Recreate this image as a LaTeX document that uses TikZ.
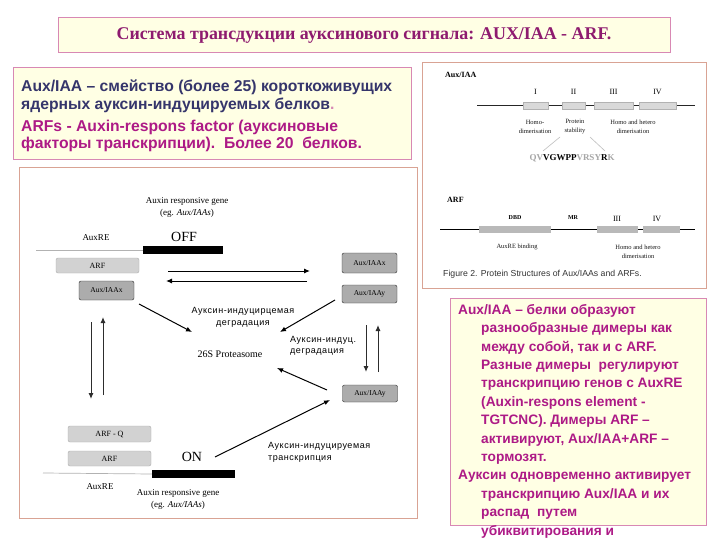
\documentclass[tikz,border=0pt]{standalone}
\usepackage{fontspec}
\setmainfont{Liberation Serif}
\setsansfont{Liberation Sans}
\newfontfamily\lblfont[LetterSpace=6]{Liberation Sans}
\usetikzlibrary{arrows.meta, positioning}

\definecolor{creamfill}{HTML}{FFFFE4}
\definecolor{pinkline}{HTML}{D888B4}
\definecolor{figline}{HTML}{D9A394}
\definecolor{titletext}{HTML}{8E1B6F}
\definecolor{magtext}{HTML}{AD1A86}
\definecolor{navytext}{HTML}{35356B}

\begin{document}
\begin{tikzpicture}[
    x=1pt, y=-1pt,
    every node/.style={inner sep=0pt},
    notebox/.style={rectangle, draw=pinkline, fill=creamfill, line width=1pt},
    figbox/.style={rectangle, draw=figline, fill=white, line width=1pt},
    lightprot/.style={rectangle, rounded corners=2pt, draw=gray!65, fill=gray!35, minimum width=83pt, font=\fontsize{8}{9}\selectfont},
    darkprot/.style={rectangle, rounded corners=2pt, draw=gray!35!black, fill=gray!65, minimum width=55pt, font=\fontsize{7.5}{9}\selectfont},
    genebar/.style={rectangle, fill=black, minimum height=8pt},
    dna/.style={draw=gray!60, line width=0.7pt},
    gene/.style={font=\fontsize{9}{12}\selectfont, align=center},
    rulabel/.style={font=\lblfont\fontsize{9}{11.5}\selectfont},
    domainbox/.style={rectangle, draw=gray!60, fill=gray!30, minimum height=7pt},
    arfdomain/.style={rectangle, draw=gray!55, fill=gray!55, minimum height=6.5pt},
    smalllbl/.style={font=\fontsize{6.5}{9}\selectfont, align=center, text=gray!20!black},
    arrow/.style={-{Latex[length=6pt,width=5pt]}, line width=1pt},
    grayarrow/.style={arrow, draw=gray!35!black}
]
\useasboundingbox (0,0) rectangle (720,540);

% title
\node[notebox, minimum width=612pt, minimum height=35pt, text=titletext,
      font=\fontsize{17.9}{20}\selectfont\bfseries] (title) at (364,35.5)
      {Система трансдукции ауксинового сигнала: AUX/IAA - ARF.};

% upper left note
\node[notebox, minimum width=398pt, minimum height=92pt] (auxnote) at (212,114) {};
\node[anchor=west, align=left, font=\sffamily\bfseries\fontsize{15.7}{17.5}\selectfont] (auxtext) at (21,116)
      {\color{navytext}Aux/IAA – смейство (более 25) короткоживущих\\
       \color{navytext}ядерных ауксин-индуцируемых белков\textcolor{pinkline}{.}\\[4.5pt]
       \color{magtext}ARFs - Auxin-respons factor (ауксиновые\\
       \color{magtext}факторы транскрипции).\ \ Более 20\ \ белков.};

% frames
\node[figbox, minimum width=284pt, minimum height=225pt] (protfig) at (564,175.5) {};
\node[figbox, minimum width=398pt, minimum height=350pt] (schemefig) at (218,343) {};
\node[notebox, minimum width=256pt, minimum height=227pt] (dimernote) at (578,411.5) {};

% lower right note
\node[anchor=north west, align=left, text=magtext,
      font=\sffamily\bfseries\fontsize{13.7}{18.4}\selectfont] (dimertext) at (458,304)
      {Aux/IAA – белки образуют\\
       \hspace*{23pt}разнообразные димеры как\\
       \hspace*{23pt}между собой, так и с ARF.\\
       \hspace*{23pt}Разные димеры\ \ регулируют\\
       \hspace*{23pt}транскрипцию генов с AuxRE\\
       \hspace*{23pt}(Auxin-respons element -\\
       \hspace*{23pt}TGTCNC). Димеры ARF –\\
       \hspace*{23pt}активируют, Aux/IAA+ARF –\\
       \hspace*{23pt}тормозят.\\
       Ауксин одновременно активирует\\
       \hspace*{23pt}транскрипцию Aux/IAA и их\\
       \hspace*{23pt}распад\ \ путем\\
       \hspace*{23pt}убиквитирования и\\
       \hspace*{23pt}протеасомами 26S};

% Aux/IAA protein structure
\node[anchor=west, font=\fontsize{8}{9}\selectfont\bfseries] (auxhead) at (445,75) {Aux/IAA};
\coordinate (auxN) at (477,105);
\coordinate (auxC) at (695,105);
\draw[gray!30!black, line width=0.6pt] (auxN) -- (auxC);
\node[domainbox, minimum width=25pt] (dI) at (535.5,105.5) {};
\node[domainbox, minimum width=23pt] (dII) at (573.5,105.5) {};
\node[domainbox, minimum width=39pt] (dIII) at (613.5,105.5) {};
\node[domainbox, minimum width=37pt] (dIV) at (657.5,105.5) {};
\foreach \dom/\num in {dI/I, dII/II, dIII/III, dIV/IV}
    \node[font=\fontsize{8}{9}\selectfont, above=7pt of \dom] {\num};
\node[smalllbl] (homo) at (535,126.5) {Homo-\\dimerisation};
\node[smalllbl] (stab) at (575,126.5) {Protein\\stability};
\node[smalllbl] (hetero) at (633,126.5) {Homo and hetero\\dimerisation};
\coordinate (stabL) at (543,151);
\coordinate (stabR) at (605,151);
\draw[gray!50, line width=0.6pt] (560,137) -- (stabL);
\draw[gray!50, line width=0.6pt] (590,137) -- (stabR);
\node[font=\fontsize{9}{10}\selectfont\bfseries] (motif) at (572,158)
    {\textcolor{gray!70}{QV}VGWPP\textcolor{gray!70}{VRSY}R\textcolor{gray!70}{K}};

% ARF protein structure
\node[anchor=west, font=\fontsize{8}{9}\selectfont\bfseries] (arfhead) at (447,200) {ARF};
\coordinate (arfN) at (440,229);
\coordinate (arfC) at (695,229);
\draw[black, line width=0.8pt] (arfN) -- (arfC);
\node[arfdomain, minimum width=71pt] (dbd) at (514.5,229) {};
\node[arfdomain, minimum width=40pt] (aIII) at (617,229) {};
\node[arfdomain, minimum width=36pt] (aIV) at (661,229) {};
\node[font=\fontsize{6}{7}\selectfont\bfseries] at (515,218) {DBD};
\node[font=\fontsize{6}{7}\selectfont\bfseries] at (573,218) {MR};
\node[font=\fontsize{8}{9}\selectfont] at (617,219) {III};
\node[font=\fontsize{8}{9}\selectfont] at (657,219) {IV};
\node[smalllbl] (auxrebind) at (517,247) {AuxRE binding};
\node[smalllbl] (arfdimer) at (638,252) {Homo and hetero\\dimerisation};
\node[anchor=west, font=\sffamily\fontsize{8.7}{9}\selectfont, text=gray!40!black] (caption) at (443,274)
    {Figure 2. Protein Structures of Aux/IAAs and ARFs.};

% OFF state
\node[gene] (geneoff) at (187,207) {Auxin responsive gene\\(eg. \textit{Aux/IAAs})};
\node[font=\fontsize{9}{10}\selectfont] (auxreoff) at (96,238) {AuxRE};
\node[font=\fontsize{14}{15}\selectfont] (off) at (184,237) {OFF};
\node[genebar, minimum width=80pt] (baroff) at (183,250) {};
\coordinate (dnaoff) at (36,250);
\draw[dna] (dnaoff) -- (baroff.west);
\node[lightprot, minimum height=15pt] (arfoff) at (97.5,265.5) {ARF};
\node[darkprot, minimum height=19pt] (auxL) at (106.5,290.5) {Aux/IAAx};

% free Aux/IAA pool
\node[darkprot, minimum height=20pt] (auxR1) at (369.5,263) {Aux/IAAx};
\node[darkprot, minimum height=18pt] (auxR2) at (369.5,294) {Aux/IAAy};
\node[darkprot, minimum height=17pt] (auxR3) at (370,393.5) {Aux/IAAy};
\node[font=\fontsize{10}{11}\selectfont] (prot) at (230,354) {26S Proteasome};
\node[rulabel, align=center] (degr1) at (243,317.5) {Ауксин-индуцирцемая\\деградация};
\node[rulabel, align=left, anchor=west] (degr2) at (290,346) {Ауксин-индуц.\\деградация};
\node[rulabel, align=left, anchor=west] (transcr) at (268,452.5) {Ауксин-индуцируемая\\транскрипция};

% ON state
\node[lightprot, minimum height=16pt] (arfq) at (109.5,434) {ARF - Q};
\node[lightprot, minimum height=15pt] (arfon) at (109.5,458.5) {ARF};
\node[font=\fontsize{14}{15}\selectfont] (on) at (192,457) {ON};
\node[genebar, minimum width=83pt] (baron) at (193.5,474) {};
\coordinate (dnaon) at (43,473);
\draw[dna] (dnaon) -- (baron.west);
\node[font=\fontsize{9}{10}\selectfont] (auxreon) at (100,487) {AuxRE};
\node[gene] (geneon) at (178,499) {Auxin responsive gene\\(eg. \textit{Aux/IAAs})};

% arrow ends
\coordinate (relL) at (168,271);
\coordinate (relR) at (310,271);
\coordinate (bindR) at (307,281);
\coordinate (bindL) at (166,281);
\coordinate (auxLout) at (139,304);
\coordinate (protNW) at (192,332);
\coordinate (auxR2out) at (335,300);
\coordinate (protNE) at (280,332);
\coordinate (auxR3out) at (327,390);
\coordinate (protE) at (277,368);
\coordinate (baronout) at (215,457);
\coordinate (auxR3in) at (330,400);
\coordinate (lDownA) at (91,322);
\coordinate (lDownB) at (91,399);
\coordinate (lUpA) at (103,395);
\coordinate (lUpB) at (103,317);
\coordinate (rDownA) at (366,325);
\coordinate (rDownB) at (366,372);
\coordinate (rUpA) at (378,372);
\coordinate (rUpB) at (378,325);

\foreach \src/\dst in {relL/relR, bindR/bindL, auxLout/protNW, auxR2out/protNE,
                       auxR3out/protE, baronout/auxR3in} {
    \draw[arrow] (\src) -- (\dst);
}
\foreach \src/\dst in {lDownA/lDownB, lUpA/lUpB, rDownA/rDownB, rUpA/rUpB} {
    \draw[grayarrow] (\src) -- (\dst);
}

\end{tikzpicture}
\end{document}
